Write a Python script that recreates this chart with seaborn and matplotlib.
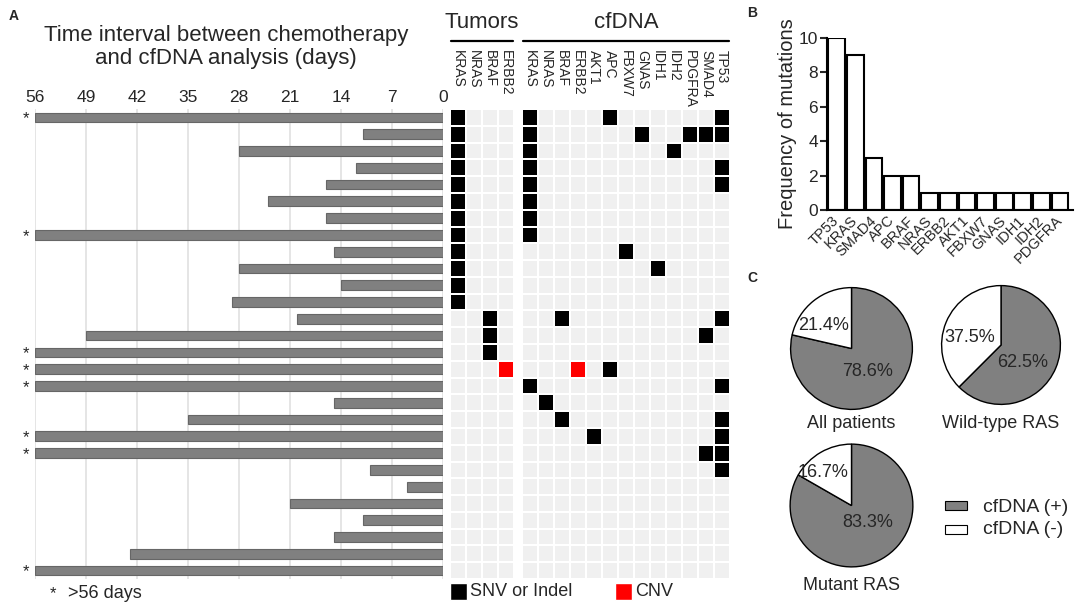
import numpy as np
import pandas as pd
import matplotlib.pyplot as plt
import matplotlib.transforms as mtransforms
import seaborn as sns
from matplotlib.colors import ListedColormap
from matplotlib.lines import Line2D
from matplotlib.patches import Rectangle

sns.set_style('white')
plt.rcParams['font.family'] = ['Liberation Sans', 'DejaVu Sans']

W, H = 1084, 606
GRAY = '#808080'

# A: days between chemotherapy and cfDNA analysis, one per patient (top to bottom)
interval_days = [56, 11, 28, 12, 16, 24, 16, 56, 15, 28, 14, 29, 20, 49,
                 56, 56, 56, 15, 35, 56, 56, 10, 5, 21, 11, 15, 43, 56]
over_56 = [1, 0, 0, 0, 0, 0, 0, 1, 0, 0, 0, 0, 0, 0,
           1, 1, 1, 0, 0, 1, 1, 0, 0, 0, 0, 0, 0, 1]

tumor_genes = ['KRAS', 'NRAS', 'BRAF', 'ERBB2']
cfdna_genes = ['KRAS', 'NRAS', 'BRAF', 'ERBB2', 'AKT1', 'APC', 'FBXW7',
               'GNAS', 'IDH1', 'IDH2', 'PDGFRA', 'SMAD4', 'TP53']

# mutations found per patient, a trailing * means CNV instead of SNV/indel
tumor_calls = [['KRAS']] * 12 + [['BRAF']] * 3 + [['ERBB2*']] + [[]] * 12
cfdna_calls = [
    ['KRAS', 'APC', 'TP53'],
    ['KRAS', 'GNAS', 'PDGFRA', 'SMAD4', 'TP53'],
    ['KRAS', 'IDH2'],
    ['KRAS', 'TP53'],
    ['KRAS', 'TP53'],
    ['KRAS'], ['KRAS'], ['KRAS'],
    ['FBXW7'], ['IDH1'], [], [],
    ['BRAF', 'TP53'], ['SMAD4'], [],
    ['ERBB2*', 'APC'],
    ['KRAS', 'TP53'], ['NRAS'], ['BRAF', 'TP53'], ['AKT1', 'TP53'],
    ['SMAD4', 'TP53'], ['TP53'],
    [], [], [], [], [], [],
]

# B
freq_genes = ['TP53', 'KRAS', 'SMAD4', 'APC', 'BRAF', 'NRAS', 'ERBB2',
              'AKT1', 'FBXW7', 'GNAS', 'IDH1', 'IDH2', 'PDGFRA']
freq_counts = [10, 9, 3, 2, 2, 1, 1, 1, 1, 1, 1, 1, 1]

# C
pie_groups = ['All patients', 'Wild-type RAS', 'Mutant RAS']
pie_positive = [78.6, 62.5, 83.3]
pie_negative = [21.4, 37.5, 16.7]


def box(x0, y0, x1, y1):
    # pixel box measured from the top-left -> figure fraction rect
    return [x0 / W, 1 - y1 / H, (x1 - x0) / W, (y1 - y0) / H]


def fx(x):
    return x / W


def fy(y):
    return 1 - y / H


def call_matrix(calls, genes):
    m = pd.DataFrame(0, index=range(len(calls)), columns=genes)
    for i, row in enumerate(calls):
        for g in row:
            if g.endswith('*'):
                m.loc[i, g[:-1]] = 2
            else:
                m.loc[i, g] = 1
    return m


fig = plt.figure(figsize=(W / 100, H / 100), dpi=100)

# ---------------- A: interval bars
ax = fig.add_axes(box(35, 109, 443, 579))
df = pd.DataFrame({'patient': ['p%d' % i for i in range(len(interval_days))],
                   'days': interval_days})
sns.barplot(data=df, x='days', y='patient', orient='h', color=GRAY, saturation=1,
            edgecolor='#666666', linewidth=0.8, width=0.58, ax=ax)
ax.set_xlim(56, 0)
ax.set_ylim(len(interval_days) - 0.5, -0.5)
ax.xaxis.tick_top()
ax.set_xticks(range(0, 57, 7))
ax.tick_params(axis='x', length=0, pad=3, labelsize=12.5)
ax.set_yticks(range(len(interval_days)))
ax.set_yticklabels(['*' if o else '' for o in over_56], fontsize=12)
ax.tick_params(axis='y', length=0, pad=4)
ax.set_xlabel('')
ax.set_ylabel('')
ax.grid(axis='x', color='#e3e3e3', lw=1.3)
ax.grid(axis='y', visible=False)
ax.set_axisbelow(True)
for s in ax.spines.values():
    s.set_visible(False)

fig.text(fx(226), fy(47), 'Time interval between chemotherapy\nand cfDNA analysis (days)',
         ha='center', va='center', fontsize=16, linespacing=1.1)
fig.text(fx(14), fy(16), 'A', ha='center', va='center', fontsize=10, fontweight='bold')
fig.text(fx(52.5), fy(594), '*', ha='center', va='center', fontsize=12)
fig.text(fx(68), fy(593), '>56 days', ha='left', va='center', fontsize=13)

# ---------------- A: mutation grids
cmap = ListedColormap(['#f0f0f0', 'black', '#ff0000'])
blocks = [(tumor_genes, tumor_calls, 450, 514, 'Tumors'),
          (cfdna_genes, cfdna_calls, 522, 730, 'cfDNA')]
for genes, calls, x0, x1, head in blocks:
    hax = fig.add_axes(box(x0, 109, x1, 579))
    sns.heatmap(call_matrix(calls, genes), cmap=cmap, vmin=-0.5, vmax=2.5, cbar=False,
                linewidths=1.3, linecolor='white', xticklabels=False, yticklabels=False,
                ax=hax)
    trans = mtransforms.blended_transform_factory(hax.transData, hax.transAxes)
    for i, g in enumerate(genes):
        hax.text(i + 0.5, 1 + 59 / 470, g, rotation=270, ha='center', va='top',
                 fontsize=10, transform=trans)
    fig.text(fx((x0 + x1) / 2), fy(23), head, ha='center', va='center', fontsize=16)
    fig.add_artist(Line2D([fx(x0 + 0.5), fx(x1 - 1.5)], [fy(41), fy(41)],
                          color='black', lw=1.6))

fig.add_artist(Rectangle((fx(450), fy(600)), 17 / W, 17 / H, facecolor='black',
                         transform=fig.transFigure))
fig.text(fx(470), fy(592), 'SNV or Indel', ha='left', va='center', fontsize=13)
fig.add_artist(Rectangle((fx(615), fy(600)), 17 / W, 17 / H, facecolor='#ff0000',
                         transform=fig.transFigure))
fig.text(fx(635), fy(592), 'CNV', ha='left', va='center', fontsize=13)

# ---------------- B: mutation frequency
bax = fig.add_axes(box(827, 38, 1073, 210))
sns.barplot(x=freq_genes, y=freq_counts, color='white', saturation=1,
            edgecolor='black', linewidth=1.5, width=0.9, ax=bax)
bax.set_ylim(0, 10)
bax.set_xlim(-0.52, 12.7)
bax.set_yticks(range(0, 11, 2))
bax.set_ylabel('Frequency of mutations', fontsize=14.5, labelpad=1)
bax.tick_params(axis='y', length=5, width=1.5, pad=1.5, labelsize=12.5, left=True)
bax.tick_params(axis='x', length=0, pad=6, labelsize=10.5)
plt.setp(bax.get_xticklabels(), rotation=45, ha='right', va='center', rotation_mode='anchor')
sns.despine(ax=bax)
for s in ['left', 'bottom']:
    bax.spines[s].set_linewidth(1.5)
    bax.spines[s].set_color('black')
fig.text(fx(752), fy(13), 'B', ha='center', va='center', fontsize=10, fontweight='bold')

# ---------------- C: pies
fig.text(fx(752), fy(278), 'C', ha='center', va='center', fontsize=10, fontweight='bold')
pie_geom = [(851.5, 348.5, 61.5), (1001, 345, 60), (851.5, 505.5, 62)]
label_y = [424, 424, 585]
pct_pos = [[(0.27, -0.38), (-0.46, 0.38)],
           [(0.37, -0.30), (-0.52, 0.12)],
           [(0.27, -0.27), (-0.46, 0.54)]]
for (cx, cy, r), name, pos, neg, ly, pp in zip(pie_geom, pie_groups, pie_positive,
                                               pie_negative, label_y, pct_pos):
    pax = fig.add_axes(box(cx - r, cy - r, cx + r, cy + r))
    wedges, texts, autotexts = pax.pie(
        [pos, neg], colors=[GRAY, 'white'], startangle=90, counterclock=False,
        autopct='%1.1f%%', wedgeprops=dict(edgecolor='black', linewidth=1),
        textprops=dict(fontsize=13))
    for t, p in zip(autotexts, pp):
        t.set_position(p)
    pax.set_xlim(-1.01, 1.01)
    pax.set_ylim(-1.01, 1.01)
    fig.text(fx(cx), fy(ly), name, ha='center', va='center', fontsize=13)

fig.add_artist(Rectangle((fx(945), fy(510)), 22 / W, 9 / H, facecolor=GRAY,
                         edgecolor='black', lw=0.8, transform=fig.transFigure))
fig.add_artist(Rectangle((fx(945), fy(534)), 22 / W, 9 / H, facecolor='white',
                         edgecolor='black', lw=0.8, transform=fig.transFigure))
fig.text(fx(983), fy(507), 'cfDNA (+)', ha='left', va='center', fontsize=14)
fig.text(fx(983), fy(530), 'cfDNA (-)', ha='left', va='center', fontsize=14)

fig.savefig('out.png', dpi=100)
